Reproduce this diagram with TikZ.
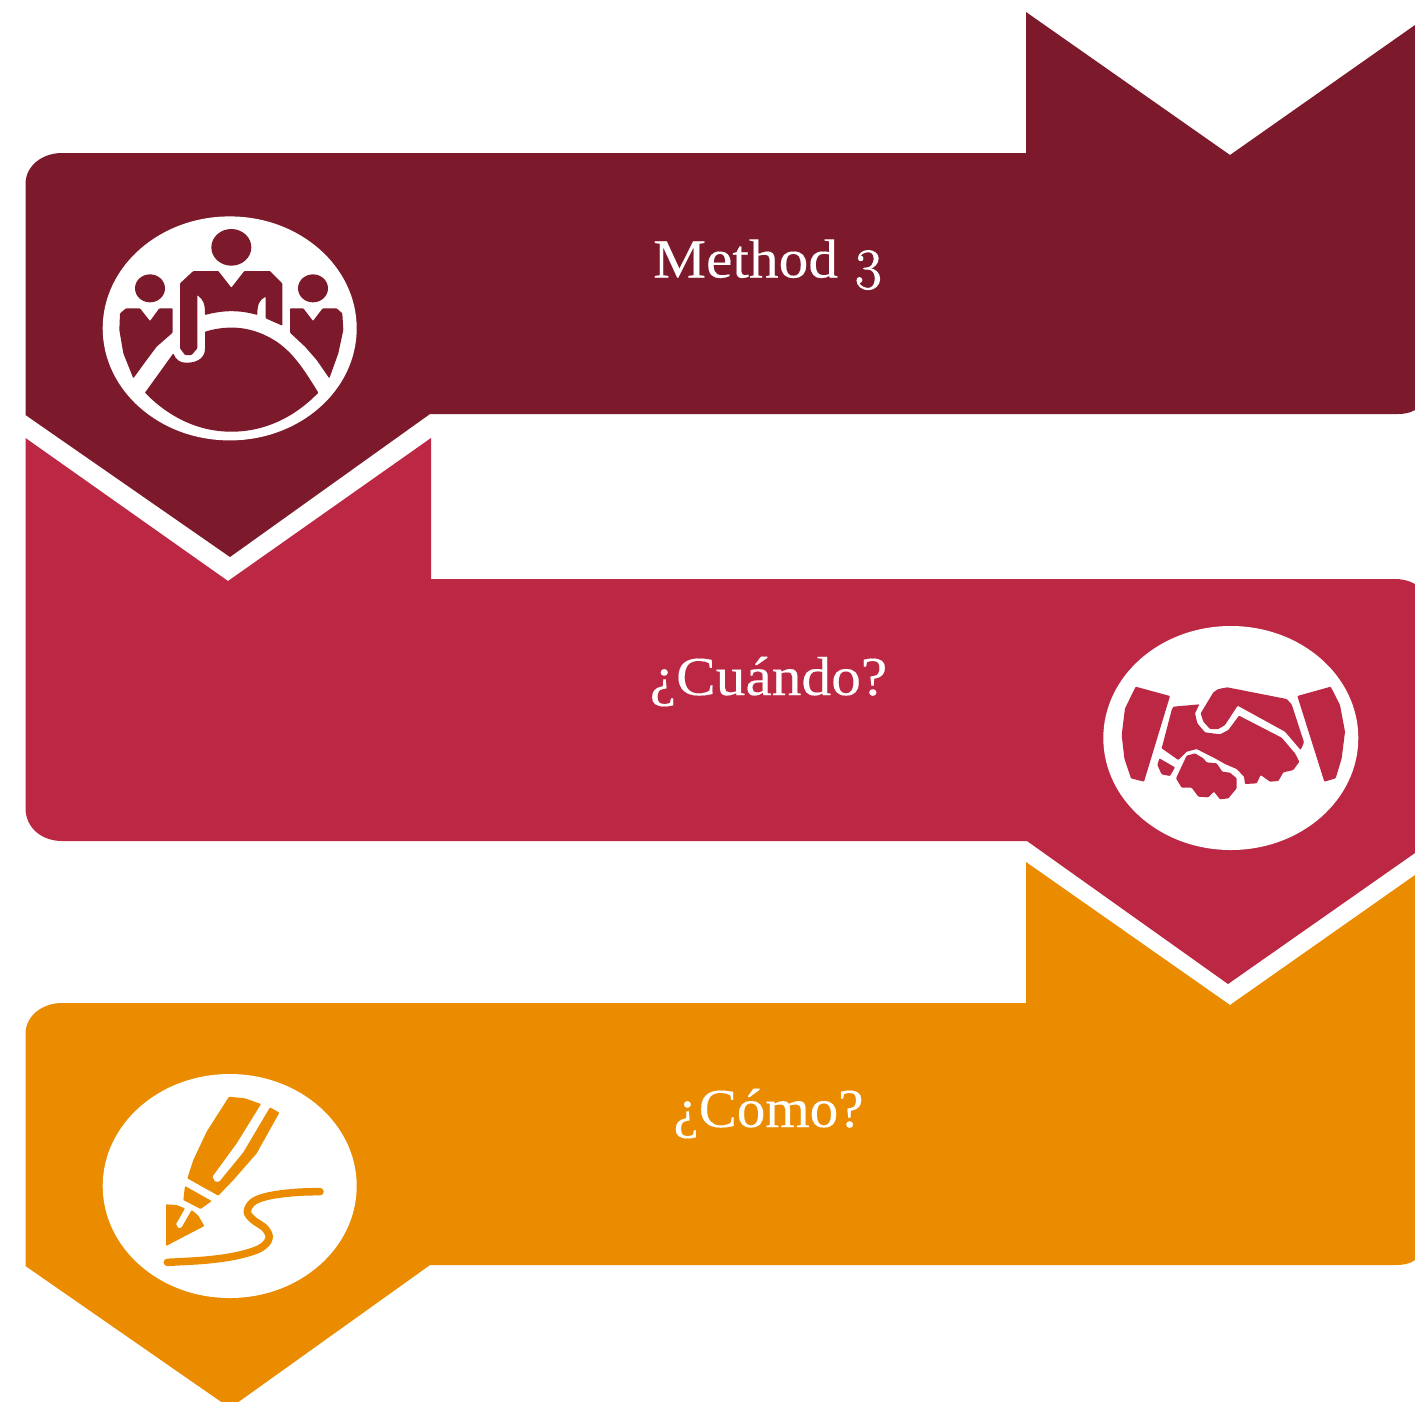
\documentclass[tikz,border=0pt]{standalone}
\usepackage{fontspec}
\setmainfont{Liberation Serif}[FakeStretch=1.08,FakeBold=0.25]
\newfontfamily\oldnum{Latin Modern Roman}[Numbers=OldStyle,FakeBold=1.6]
\definecolor{wine}{HTML}{7C1A2B}
\definecolor{crim}{HTML}{BC2843}
\definecolor{amber}{HTML}{EA8B00}
\tikzset{
  title/.style={text=white,font=\fontsize{55}{60}\selectfont,anchor=base,inner sep=0pt},
  disc/.style={fill=white,draw=none},
  icon/.style={x=0.33333pt,y=-0.33333pt,rounded corners=0.8pt},
}
\begin{document}
\begin{tikzpicture}[x=1pt,y=-1pt]
\useasboundingbox (0,0) rectangle (1415,1401);
\clip (0,0) rectangle (1415,1401);
% banners
\fill[wine] (62,153) -- (1026,153) -- (1026,12) -- (1230,155) -- (1415,25) -- (1415,410)
  .. controls (1410,413) and (1404,414) .. (1398,414) -- (430,414) -- (230,557) -- (25.5,415) -- (25.5,184)
  .. controls (25.5,166) and (42,153) .. (62,153) -- cycle;
\fill[crim] (25.5,438) -- (228,581) -- (431,438) -- (431,579) -- (1395,579)
  .. controls (1403,579) and (1410,581) .. (1415,584) -- (1415,853) -- (1228,984) -- (1027,841) -- (62,841)
  .. controls (42,841) and (25.5,828) .. (25.5,808) -- cycle;
\fill[amber] (62,1003) -- (1026,1003) -- (1026,862) -- (1230,1005) -- (1415,875) -- (1415,1260)
  .. controls (1410,1264) and (1403,1265) .. (1395,1265) -- (430,1265) -- (230,1408) -- (25.5,1266) -- (25.5,1034)
  .. controls (25.5,1016) and (42,1003) .. (62,1003) -- cycle;
% texts
\node[title] (t1) at (768.5,277.5) {Method {\oldnum\fontsize{58}{60}\selectfont 3}};
\node[title] (t2) at (768.5,695) {¿Cuándo?};
\node[title,xscale=0.96,transform shape] (t3) at (768.5,1127) {¿Cómo?};
% discs
\fill[disc] (229.7,328.4) ellipse [x radius=127,y radius=112];
\fill[disc] (1230.8,738) ellipse [x radius=127.5,y radius=112];
\fill[disc] (229.7,1186) ellipse [x radius=127,y radius=112];
% people icon
\begin{scope}[shift={(90,205)},icon]
\fill[wine] (424,127) ellipse [x radius=60,y radius=55];
\fill[wine] (180,250) ellipse [x radius=45,y radius=42];
\fill[wine] (669,250) ellipse [x radius=45,y radius=42];
\fill[wine] (310,198) -- (385,198) -- (424,248) -- (463,198) -- (540,198) -- (577,235) -- (577,362) -- (527,340) -- (527,275)
  .. controls (510,285) and (502,295) .. (502,330) .. controls (450,315) and (400,315) .. (345,330)
  .. controls (345,295) and (340,285) .. (322,270) -- (322,430) -- (305,450) -- (285,450) -- (270,430) -- (270,235) -- cycle;
\fill[wine] (108,310) -- (150,310) -- (180,348) -- (208,310) -- (248,310) -- (248,383) -- (200,425) -- (170,465) -- (130,520) -- (100,445) -- (88,375) -- (90,325) -- cycle;
\fill[wine] (600,310) -- (640,310) -- (669,348) -- (698,310) -- (740,310) -- (757,325) -- (760,375) -- (745,445) -- (718,520) -- (680,465) -- (645,425) -- (600,383) -- cycle;
\fill[wine] (165,563) -- (250,445) .. controls (258,465) and (270,473) .. (290,473) .. controls (325,473) and (345,455) .. (345,430) -- (345,380)
  .. controls (420,358) and (490,365) .. (560,410) .. controls (610,445) and (640,490) .. (685,563)
  .. controls (610,640) and (520,680) .. (424,680) .. controls (330,680) and (240,640) .. (165,563) -- cycle;
\end{scope}
% handshake icon
\begin{scope}[shift={(1090,615)},icon]
\fill[crim] (137,215) -- (240,243) -- (162,500) -- (123,490) -- (103,430) -- (95,360) -- (105,280) -- cycle;
\fill[crim] (622,243) -- (722,215) -- (750,270) -- (765,350) -- (755,430) -- (737,490) -- (703,500) -- cycle;
\fill[crim] (412,217) -- (590,252) -- (605,268) -- (642,382) -- (632,405) -- (585,350) -- (443,272) -- (405,330) -- (385,342) -- (360,342) -- (340,320) -- (332,295) -- (370,232) -- (385,222) -- cycle;
\fill[crim] (250,275) -- (328,268) -- (315,295) -- (322,325) -- (345,352) -- (390,358) -- (415,345) -- (447,302) -- (575,368) -- (615,415) -- (628,440) -- (610,465) -- (580,472) -- (565,498) -- (540,500) -- (512,480) -- (500,505) -- (465,507) -- (462,485) -- (440,462) -- (405,447) -- (375,430) -- (345,415) -- (320,402) -- (290,410) -- (265,435) -- (215,400) -- (245,285) -- cycle;
\fill[crim] (208,430) -- (255,457) -- (240,483) -- (215,478) -- (202,450) -- cycle;
\fill[crim] (290,422) -- (315,415) -- (340,430) -- (350,442) -- (380,445) -- (397,470) -- (420,473) -- (440,490) -- (440,520) -- (415,550) -- (390,553) -- (372,530) -- (355,547) -- (325,545) -- (305,518) -- (275,518) -- (258,490) -- cycle;
\end{scope}
% pen icon
\begin{scope}[shift={(90,1065)},icon]
\fill[amber] (417,95) -- (465,100) -- (513,117) -- (440,235) -- (367,335) -- (375,350) -- (388,350) -- (460,262) -- (540,127) -- (568,143) -- (500,265) -- (430,345) -- (385,392) -- (292,340) -- (310,285) -- (350,200) -- cycle;
\fill[amber] (285,363) -- (365,408) -- (332,432) -- (280,405) -- cycle;
\fill[amber] (228,418) -- (260,420) -- (285,430) -- (258,477) -- (265,490) -- (275,487) -- (305,435) -- (325,452) -- (343,483) -- (228,543) -- cycle;
\draw[amber,line width=7.5pt,line cap=round,line join=round,rounded corners=0pt] plot[smooth,tension=0.6] coordinates {(232,592) (350,585) (440,572) (510,550) (537,520) (525,490) (490,465) (472,440) (490,410) (540,392) (620,382) (690,380)};
\end{scope}
\end{tikzpicture}
\end{document}
